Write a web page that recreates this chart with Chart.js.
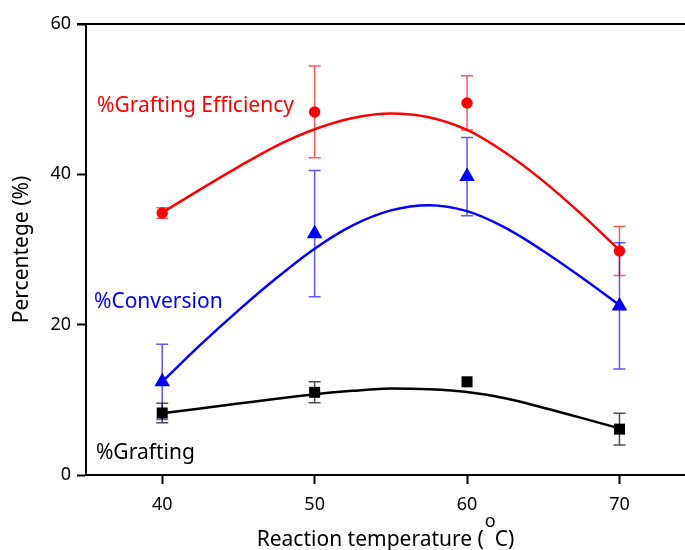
<!DOCTYPE html>
<html>
<head>
<meta charset="utf-8">
<script src="https://cdn.jsdelivr.net/npm/chart.js@4"></script>
<style>
  html,body{margin:0;padding:0;background:#fff;}
  #wrap{width:685px;height:550px;}
</style>
</head>
<body>
<div id="wrap"><canvas id="myChart" width="685" height="550"></canvas></div>
<script>
// measured points (reaction temperature, %)
const temps = [40, 50, 60, 70]
const geVals = [34.85, 48.3, 49.5, 29.8]
const geErr = [0.7, 6.1, 3.6, 3.25]
const convVals = [12.4, 32.1, 39.7, 22.5]
const convErr = [5.0, 8.4, 5.2, 8.4]
const grVals = [8.25, 11.0, 12.4, 6.1]
const grErr = [1.3, 1.4, 0, 2.1]

// fitted curves
const curveX = [40, 42.5, 45, 47.5, 50, 52.5, 55, 57.5, 60, 62.5, 65, 67.5, 70]
const geCurve = [34.9, 38.0, 41.0, 43.8, 46.0, 47.5, 48.1, 47.6, 45.9, 42.9, 39.1, 34.7, 29.9]
const convCurve = [12.4, 17.3, 21.9, 26.2, 30.1, 33.2, 35.2, 35.9, 35.1, 32.9, 29.8, 26.3, 22.6]
const grCurve = [8.2, 8.85, 9.5, 10.15, 10.75, 11.2, 11.5, 11.4, 11.05, 10.2, 8.95, 7.6, 6.2]

const xTicks = [40, 50, 60, 70]
const yTicks = [0, 20, 40, 60]

const FONT = '"Noto Sans", "DejaVu Sans", sans-serif'
const xTitle = 'Reaction temperature (  C)'

function pts(xs, ys) {
  return xs.map((x, i) => ({x: x, y: ys[i]}))
}

// error bars under the markers
const errorBars = {
  id: 'errorBars',
  beforeDatasetsDraw(chart) {
    const ctx = chart.ctx
    const xs = chart.scales.x, ys = chart.scales.y
    const sets = [
      [geVals, geErr, 'rgba(255,0,0,0.65)'],
      [convVals, convErr, 'rgba(0,0,255,0.65)'],
      [grVals, grErr, 'rgba(0,0,0,0.7)']
    ]
    ctx.save()
    ctx.lineWidth = 1.5
    sets.forEach(s => {
      ctx.strokeStyle = s[2]
      temps.forEach((t, i) => {
        if (!s[1][i]) return
        const px = xs.getPixelForValue(t)
        const top = ys.getPixelForValue(s[0][i] + s[1][i])
        const bot = ys.getPixelForValue(s[0][i] - s[1][i])
        ctx.beginPath()
        ctx.moveTo(px, top); ctx.lineTo(px, bot)
        ctx.moveTo(px - 6, top); ctx.lineTo(px + 6, top)
        ctx.moveTo(px - 6, bot); ctx.lineTo(px + 6, bot)
        ctx.stroke()
      })
    })
    ctx.restore()
  }
}

// top frame line, series labels, degree sign
const extras = {
  id: 'extras',
  afterDraw(chart) {
    const ctx = chart.ctx
    const a = chart.chartArea
    const xs = chart.scales.x, ys = chart.scales.y
    ctx.save()
    ctx.strokeStyle = '#000'
    ctx.lineWidth = 2
    ctx.beginPath()
    ctx.moveTo(a.left - 9, a.top)
    ctx.lineTo(a.right, a.top)
    ctx.stroke()

    ctx.font = '21px ' + FONT
    ctx.textBaseline = 'middle'
    ctx.textAlign = 'left'
    ctx.fillStyle = '#ff0000'
    ctx.fillText('%Grafting Efficiency', xs.getPixelForValue(35.72), ys.getPixelForValue(49.1))
    ctx.fillStyle = '#0000ff'
    ctx.fillText('%Conversion', xs.getPixelForValue(35.52), ys.getPixelForValue(23.0))
    ctx.fillStyle = '#000'
    ctx.fillText('%Grafting', xs.getPixelForValue(35.65), ys.getPixelForValue(2.95))

    // superscript o in the x title, just left of the C
    ctx.font = '21px ' + FONT
    const full = ctx.measureText(xTitle).width
    const pre = ctx.measureText('Reaction temperature (  ').width
    const x0 = (a.left + a.right) / 2 - full / 2
    ctx.font = '18px ' + FONT
    ctx.textBaseline = 'alphabetic'
    ctx.textAlign = 'right'
    ctx.fillText('o', x0 + pre + 1, 527)
    ctx.restore()
  }
}

const config = {
  type: 'scatter',
  data: {
    datasets: [
      {data: pts(curveX, geCurve), showLine: true, borderColor: '#ff0000', borderWidth: 2.5, pointRadius: 0, cubicInterpolationMode: 'monotone'},
      {data: pts(curveX, convCurve), showLine: true, borderColor: '#0000ff', borderWidth: 2.5, pointRadius: 0, cubicInterpolationMode: 'monotone'},
      {data: pts(curveX, grCurve), showLine: true, borderColor: '#000000', borderWidth: 2.5, pointRadius: 0, cubicInterpolationMode: 'monotone'},
      {data: pts(temps, geVals), pointStyle: 'circle', pointRadius: 5.7, backgroundColor: '#ff0000', borderColor: '#ff0000', borderWidth: 0},
      {data: pts(temps, convVals), pointStyle: 'triangle', pointRadius: 9, backgroundColor: '#0000ff', borderColor: '#0000ff', borderWidth: 0},
      {data: pts(temps, grVals), pointStyle: 'rect', pointRadius: 7.8, backgroundColor: '#000000', borderColor: '#000000', borderWidth: 0}
    ]
  },
  options: {
    responsive: false,
    animation: false,
    layout: {autoPadding: false, padding: {left: 0, right: 0, top: 24, bottom: 0}},
    plugins: {legend: {display: false}, tooltip: {enabled: false}},
    scales: {
      x: {
        type: 'linear', min: 35, max: 74.3,
        afterBuildTicks: s => { s.ticks = xTicks.map(v => ({value: v})) },
        afterFit: s => { s.height = 75; s.paddingLeft = 0; s.paddingRight = 0 },
        grid: {drawOnChartArea: false, tickLength: 9, tickWidth: 2, tickColor: '#000'},
        border: {color: '#000', width: 2},
        ticks: {color: '#000', font: {family: FONT, size: 18}, padding: 10, maxRotation: 0},
        title: {display: true, text: xTitle, color: '#000', font: {family: FONT, size: 21}, padding: {top: 0, bottom: -3}}
      },
      y: {
        min: 0, max: 60,
        afterBuildTicks: s => { s.ticks = yTicks.map(v => ({value: v})) },
        afterFit: s => { s.width = 86; s.paddingTop = 0; s.paddingBottom = 0 },
        grid: {drawOnChartArea: false, tickLength: 9, tickWidth: 2, tickColor: '#000'},
        border: {color: '#000', width: 2},
        ticks: {color: '#000', font: {family: FONT, size: 18}, padding: 6},
        title: {display: true, text: 'Percentege (%)', color: '#000', font: {family: FONT, size: 21}, padding: {top: 9, bottom: 0}}
      }
    }
  },
  plugins: [errorBars, extras]
}

new Chart(document.getElementById('myChart').getContext('2d'), config)
</script>
</body>
</html>
